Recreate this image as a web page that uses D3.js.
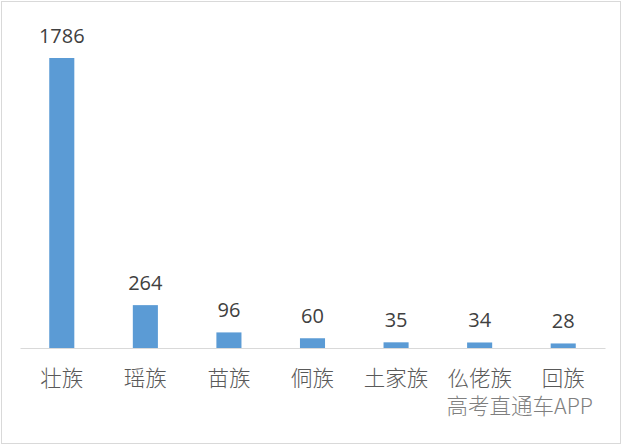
<!DOCTYPE html>
<html><head><meta charset="utf-8">
<script src="https://cdn.jsdelivr.net/npm/d3@7"></script>
<style>body{margin:0;background:#fff}svg{display:block}</style>
</head><body>
<svg id="c" width="623" height="446"></svg>
<script>
const categories = ["壮族","瑶族","苗族","侗族","土家族","仫佬族","回族"];
const values = [1786,264,96,60,35,34,28];

const svg = d3.select("#c");
svg.append("rect").attr("x",1.5).attr("y",1.5).attr("width",619).attr("height",442)
  .attr("fill","#fff").attr("stroke","#d9d9d9").attr("stroke-width",1);

const x = d3.scaleBand().domain(categories).range([20,605]).paddingInner(0.7).paddingOuter(0.35);
const y = d3.scaleLinear().domain([0,1786]).range([348,58]);

svg.selectAll("rect.bar").data(values).join("rect").attr("class","bar")
  .attr("x",(d,i)=>x(categories[i])).attr("width",x.bandwidth())
  .attr("y",d=>y(d)).attr("height",d=>y(0)-y(d)).attr("fill","#5b9bd5");

const axis = d3.axisBottom(x).tickSize(0).tickPadding(0);
const g = svg.append("g").attr("transform",`translate(0,${y(0)})`).call(axis);
g.select(".domain").attr("stroke","#d9d9d9").attr("stroke-width",1);
g.selectAll(".tick text").attr("dy",0).attr("y",38)
  .attr("font-family","'Noto Sans CJK SC'").attr("font-size",21.5).attr("font-weight",300).attr("fill","#595959");

svg.selectAll("text.val").data(values).join("text").attr("class","val")
  .attr("x",(d,i)=>x(categories[i])+x.bandwidth()/2).attr("y",d=>y(d)-15)
  .attr("text-anchor","middle").attr("font-family","'Open Sans'").attr("font-size",20)
  .attr("fill","#404040").text(d=>d);

svg.append("text").attr("x",593).attr("y",414).attr("text-anchor","end")
  .attr("font-family","'Noto Sans CJK SC'").attr("font-size",21.5).attr("font-weight",300)
  .attr("fill","#7f7f7f").text("高考直通车APP");
</script>
</body></html>
